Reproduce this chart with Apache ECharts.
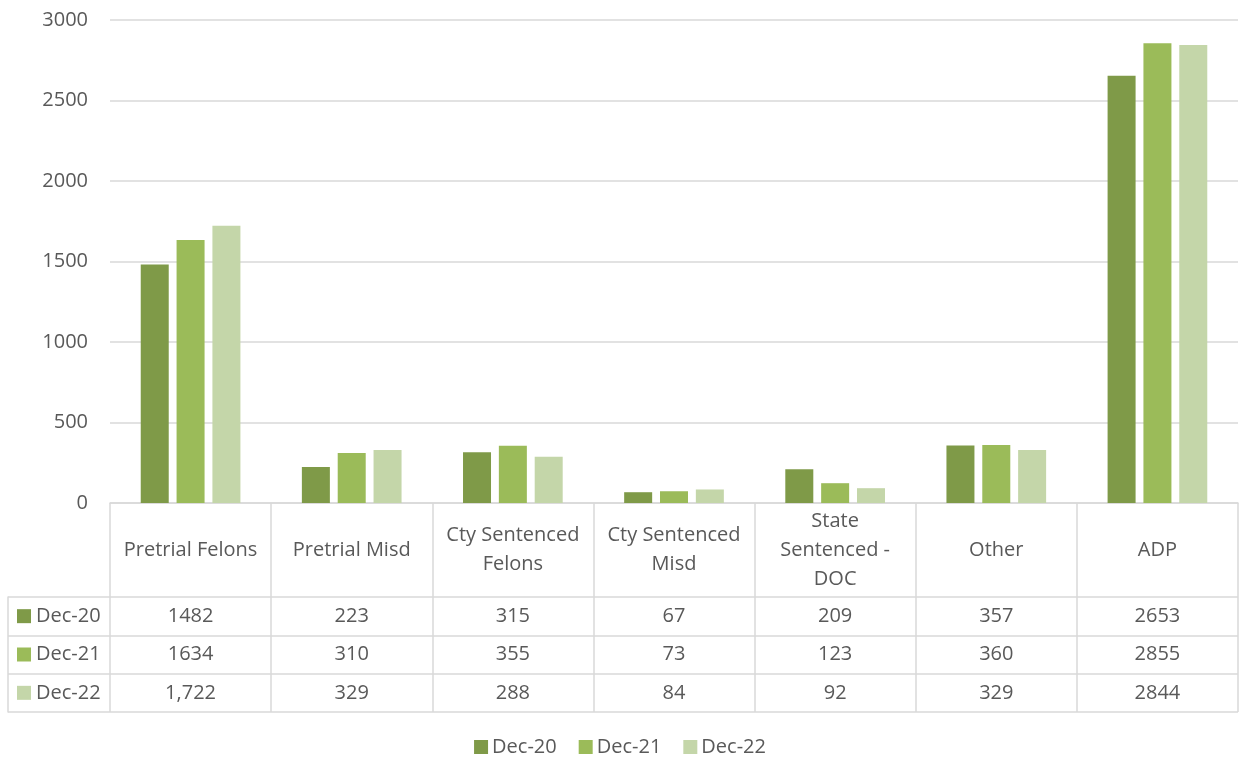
<!DOCTYPE html>
<html>
<head>
<meta charset="utf-8">
<script src="https://cdn.jsdelivr.net/npm/echarts@6/dist/echarts.min.js"></script>
<style>html,body{margin:0;padding:0;background:#fff}#c{width:1240px;height:761px}</style>
</head>
<body>
<div id="c"></div>
<script>
const categories = ['Pretrial Felons', 'Pretrial Misd', 'Cty Sentenced\nFelons', 'Cty Sentenced\nMisd', 'State\nSentenced -\nDOC', 'Other', 'ADP'];
const seriesNames = ['Dec-20', 'Dec-21', 'Dec-22'];
const dec20 = [1482, 223, 315, 67, 209, 357, 2653];
const dec21 = [1634, 310, 355, 73, 123, 360, 2855];
const dec22 = [1722, 329, 288, 84, 92, 329, 2844];
const yTicks = { min: 0, max: 3000, interval: 500 };
// cells shown with a thousands separator in the data table: [row, column]
const commaCells = [[2, 0]];

const seriesValues = [dec20, dec21, dec22];
const colors = ['#7f9a48', '#9bbb59', '#c4d6a9'];
const textColor = '#595959';
const lineColor = '#d9d9d9';
const font = 'Open Sans';
const fs = 20;

function cellText(row, col) {
  const v = seriesValues[row][col];
  const comma = commaCells.some(c => c[0] === row && c[1] === col);
  return comma ? v.toLocaleString('en-US') : String(v);
}

const rowTop = 597 - 503;    // table rows start below the category row
const rowH = 115 / 3;

const xAxes = [{
  type: 'category', gridIndex: 0, data: categories,
  axisLine: { show: true, lineStyle: { color: lineColor, width: 1.5 } },
  axisTick: { show: true, length: 209, lineStyle: { color: lineColor, width: 1.5 } },
  axisLabel: { interval: 0, color: textColor, fontFamily: font, fontSize: fs, lineHeight: 29, margin: 47, verticalAlign: 'middle', align: 'center' }
}];
seriesValues.forEach((vals, r) => {
  xAxes.push({
    type: 'category', gridIndex: 0, data: categories, position: 'bottom', offset: 0,
    axisLine: { show: false }, axisTick: { show: false }, splitLine: { show: false },
    axisLabel: { interval: 0, color: textColor, fontFamily: font, fontSize: fs, margin: rowTop + rowH * (r + 0.5), verticalAlign: 'middle', align: 'center',
      formatter: (v, i) => cellText(r, i) }
  });
});
xAxes.push({ type: 'value', gridIndex: 1, show: false });

const rich = { t: { color: textColor, fontFamily: font, fontSize: fs, padding: [0, 0, 0, 5] } };
colors.forEach((c, i) => { rich['s' + i] = { width: 14, height: 14, backgroundColor: c }; });

const option = {
  animation: false,
  textStyle: { fontFamily: font },
  legend: {
    data: seriesNames, top: 732, left: 'center', icon: 'rect', itemWidth: 14, itemHeight: 14, itemGap: 22,
    textStyle: { color: textColor, fontFamily: font, fontSize: fs, padding: [0, 0, 0, -1] }
  },
  grid: [
    { left: 110, right: 2, top: 20, bottom: 258, containLabel: false, outerBoundsMode: 'none' },
    { left: 8, right: 2, top: 597, height: 115, containLabel: false, outerBoundsMode: 'none' }
  ],
  xAxis: xAxes,
  yAxis: [
    { type: 'value', gridIndex: 0, min: yTicks.min, max: yTicks.max, interval: yTicks.interval,
      axisLine: { show: false }, axisTick: { show: false },
      splitLine: { lineStyle: { color: lineColor, width: 1.5 } },
      axisLabel: { color: textColor, fontFamily: font, fontSize: fs, margin: 22, formatter: v => String(v) } },
    { type: 'category', gridIndex: 1, data: seriesNames, inverse: true,
      axisLine: { show: true, lineStyle: { color: lineColor, width: 1.5 } },
      axisTick: { show: false },
      splitLine: { show: true, lineStyle: { color: lineColor, width: 1.5 } },
      axisLabel: { inside: true, margin: 9, align: 'left', verticalAlign: 'middle',
        formatter: (v, i) => '{s' + i + '|}{t|' + v + '}', rich: rich } }
  ],
  series: seriesNames.map((n, i) => ({
    name: n, type: 'bar', xAxisIndex: 0, yAxisIndex: 0, data: seriesValues[i],
    barWidth: 28, barGap: '28%', itemStyle: { color: colors[i] }
  }))
};

const chart = echarts.init(document.getElementById('c'), null, { renderer: 'canvas' });
chart.setOption(option);
</script>
</body>
</html>
